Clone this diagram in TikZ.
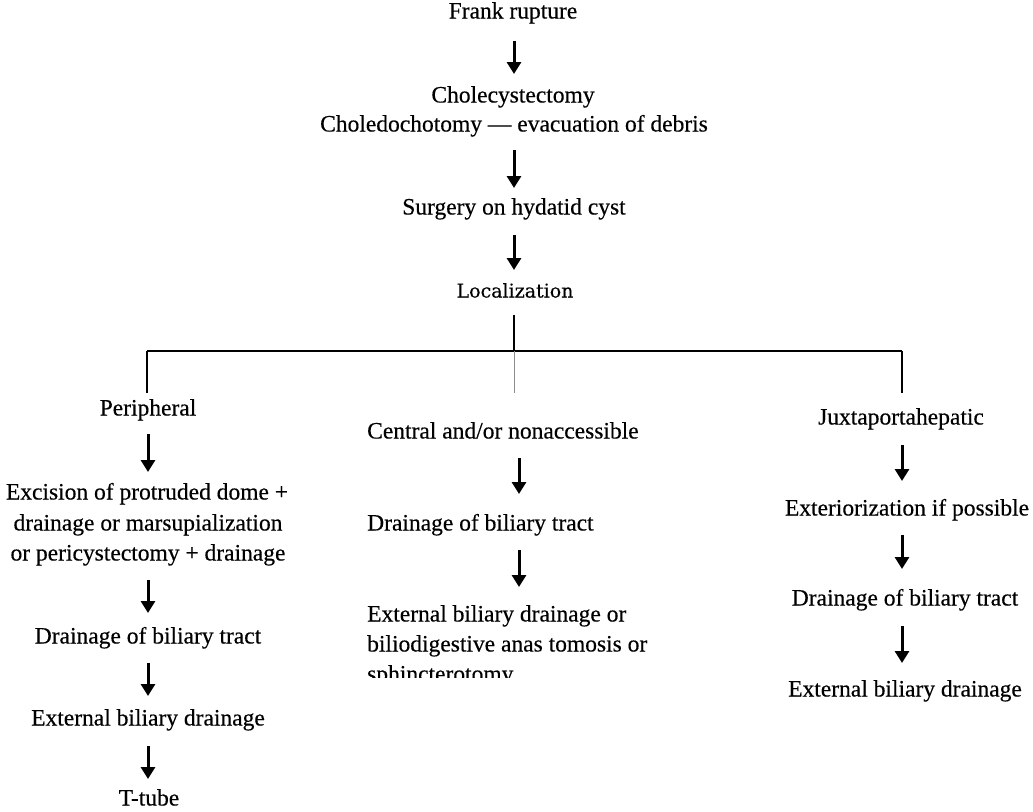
\documentclass[tikz,border=0pt]{standalone}
\usepackage{fontspec}
\setmainfont[FakeBold=0.35]{Liberation Serif}
\newfontfamily\locfont[FakeBold=0.35]{DejaVu Serif}
\usetikzlibrary{arrows.meta}
\begin{document}
\begin{tikzpicture}[x=1pt,y=1pt,
  txt/.style={inner sep=0pt,text height=16pt,text depth=5pt,font=\fontsize{23.5}{30}\selectfont},
  ltxt/.style={txt,anchor=west},
  arr/.style={line width=3pt,-{Triangle[width=14pt,length=12pt]},shorten <=25pt,shorten >=25pt},
  conn/.style={line width=1.3pt},
  faint/.style={line width=0.6pt,black!45}]
\useasboundingbox (0,0) rectangle (1033,-811);
\fill[white] (0,0) rectangle (1033,-811);
% ---------- main stem ----------
\coordinate (mx) at (514,0);
\node[txt] (frank) at (513,-13) {Frank rupture};
\node[txt] (chole1) at (513,-97) {Cholecystectomy};
\node[txt] (chole2) at (514,-126) {Choledochotomy --- evacuation of debris};
\node[txt] (surgery) at (514,-209) {Surgery on hydatid cyst};
\node[inner sep=0pt,text height=12pt,text depth=3pt,font=\locfont\fontsize{19}{24}\selectfont] (loc) at (515,-293) {Localization};
\coordinate (hub) at (514,-351);
\coordinate (lc) at (147,-351);
\coordinate (rc) at (902,-351);
\coordinate (ld) at (147,-393);
\coordinate (rd) at (902,-393);
\coordinate (md) at (514,-393);
\draw[arr,shorten <=28pt,shorten >=23pt] (frank.center -| mx) -- (chole1.center -| mx);
\draw[arr,shorten <=24pt,shorten >=21pt] (chole2.center -| mx) -- (surgery.center -| mx);
\draw[arr,shorten <=26pt,shorten >=23pt] (surgery.center -| mx) -- (loc.center -| mx);
\draw[conn,shorten <=22pt] (loc.center -| mx) -- (hub);
\draw[conn] (lc) -- (rc);
\draw[conn] (lc) -- (ld);
\draw[conn] (rc) -- (rd);
\draw[faint] (hub) -- (md);
% ---------- left column ----------
\coordinate (lx) at (148,0);
\node[txt] (periph) at (148,-410) {Peripheral};
\node[txt] (exc1) at (147,-494) {Excision of protruded dome +};
\node[txt] (exc2) at (148,-525) {drainage or marsupialization};
\node[txt] (exc3) at (148,-555) {or pericystectomy + drainage};
\node[txt] (ldrain) at (148,-638) {Drainage of biliary tract};
\node[txt] (lext) at (148,-720) {External biliary drainage};
\node[txt] (ttube) at (149,-800) {T-tube};
\draw[arr,shorten <=24pt,shorten >=22pt] (periph.center -| lx) -- (exc1.center -| lx);
\draw[arr] (exc3.center -| lx) -- (ldrain.center -| lx);
\draw[arr,shorten >=24pt] (ldrain.center -| lx) -- (lext.center -| lx);
\draw[arr,shorten <=26pt,shorten >=21pt] (lext.center -| lx) -- (ttube.center -| lx);
% ---------- centre column ----------
\coordinate (cx) at (519,0);
\node[ltxt] (central) at (367,-433) {Central and/or nonaccessible};
\node[ltxt] (cdrain) at (367,-525) {Drainage of biliary tract};
\node[ltxt] (cext1) at (367,-616) {External biliary drainage or};
\node[ltxt] (cext2) at (367,-646) {biliodigestive anas tomosis or};
\begin{scope}
\clip (300,-660) rectangle (700,-677);
\node[ltxt] (cext3) at (367,-676) {sphincterotomy};
\end{scope}
\draw[arr,shorten >=31pt] (central.center -| cx) -- (cdrain.center -| cx);
\draw[arr,shorten >=29pt] (cdrain.center -| cx) -- (cext1.center -| cx);
% ---------- right column ----------
\coordinate (rx) at (902,0);
\node[txt] (juxta) at (901,-419) {Juxtaportahepatic};
\node[txt] (exter) at (907,-510) {Exteriorization if possible};
\node[txt] (rdrain) at (905,-600) {Drainage of biliary tract};
\node[txt] (rext) at (905,-691) {External biliary drainage};
\draw[arr,shorten <=26pt,shorten >=29pt] (juxta.center -| rx) -- (exter.center -| rx);
\draw[arr,shorten >=31pt] (exter.center -| rx) -- (rdrain.center -| rx);
\draw[arr,shorten <=26pt,shorten >=28pt] (rdrain.center -| rx) -- (rext.center -| rx);
\end{tikzpicture}
\end{document}
